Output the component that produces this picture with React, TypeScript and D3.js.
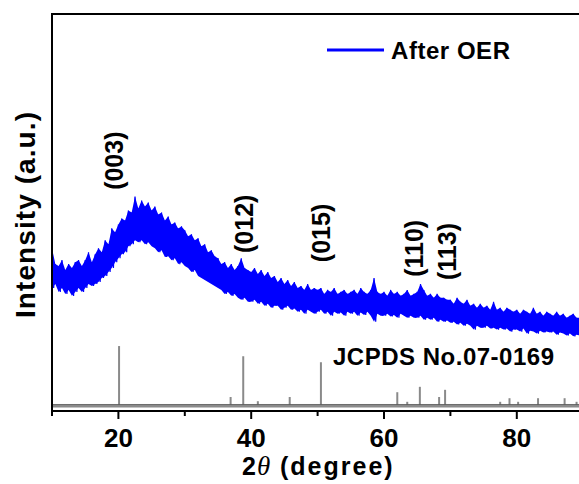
import React from 'react';
import * as d3 from 'd3';

const W = 579;
const H = 484;

// x axis (2θ, degree)
const xDomain: [number, number] = [10, 90];
const majorTicks = [20, 40, 60, 80];
const minorTicks = [10, 30, 50, 70, 90];

// measured trace "After OER": upper / lower excursions every 0.5° from 10° to 90°
const traceStart = 10;
const traceStep = 0.5;
const traceHigh = [
  41, 37, 36.5, 38, 35.5, 37, 36, 37.5, 38, 36.5,
  38, 40, 37.5, 39.5, 41, 40, 43, 42, 46, 45,
  47, 48.5, 48, 50.5, 50, 54, 51, 53, 51.5, 52.5,
  50.5, 51.5, 49.5, 50, 48, 49, 47, 47.5, 46, 46.5,
  45.5, 44, 44.5, 43, 43.5, 41.5, 42, 40, 40.5, 39,
  38.5, 37, 37.5, 36, 37, 35.5, 36.5, 38.5, 36, 35.5,
  35, 36, 34.5, 35.5, 34, 35, 33.5, 34, 32.5, 33.5,
  32, 33, 31.5, 32.5, 31, 31.5, 30.5, 32, 30.5, 31,
  30.5, 31, 29.5, 30.5, 30, 31, 29.5, 30, 30.5, 29.5,
  30, 30.5, 29.5, 31, 30, 29.5, 30.5, 33.5, 30, 29.5,
  30, 29, 30.5, 29.5, 30, 29, 29.5, 30.5, 29, 29.5,
  30, 32, 30.5, 29, 29.5, 28.5, 29.5, 28.5, 28.5, 28,
  28, 27, 28.5, 27.5, 27, 28, 26.5, 27, 26, 27,
  26, 26.5, 25.5, 27.5, 25.5, 26, 25, 26, 25.5, 25,
  25.5, 24.5, 25.5, 25, 24.5, 26, 24.5, 25, 24, 25,
  24.5, 24, 25, 24, 24.5, 23.5, 24, 24.5, 23.5, 23.5,
  23.5,
];
const traceLow = [
  31, 32, 30, 31, 29.5, 30.5, 29, 30, 31, 30,
  31, 32, 31.5, 32, 32.5, 33.5, 34, 35, 36, 37.5,
  38.5, 39.5, 40, 41.5, 42, 43, 42.5, 43, 42, 42.5,
  41.5, 41, 40, 40.5, 38.8, 39, 38, 38.5, 37, 37.5,
  36.5, 36, 35, 35.5, 34, 33.5, 33, 32.5, 32, 31.5,
  31, 30.5, 29.5, 30, 29, 29.5, 28.5, 28, 28.5, 27.5,
  27.5, 28, 27, 27.5, 26.5, 27, 26, 26.5, 26.5, 25.5,
  26, 26.5, 25.5, 25.8, 25, 25.5, 24.5, 25.5, 25, 24.5,
  25, 25.5, 24.5, 25, 24, 25, 24.5, 24.8, 24, 25,
  24.5, 25, 24, 24.8, 24.2, 25, 24, 22.5, 24.5, 24,
  24, 24.5, 23.8, 24.2, 23.5, 24.5, 24, 23.5, 24, 23.5,
  23.5, 24, 23, 23.5, 23, 23.5, 22.5, 23, 22.5, 22.8,
  22.2, 22.5, 21.8, 22.2, 21.5, 22, 21.5, 20.5, 21.5, 21,
  21, 21.5, 20.8, 21, 20.5, 21, 20.5, 20.8, 20, 20.5,
  20.5, 20, 20.8, 19.5, 20.2, 20, 19.5, 20.2, 19.8, 20,
  19.8, 20, 19.2, 19.8, 19.5, 19, 19.5, 18.8, 19.2, 19,
  19,
];

// JCPDS No.07-0169 reference sticks: position (2θ) and relative intensity
const refPos = [20.1, 36.9, 38.8, 41.0, 45.8, 50.5, 62.0, 63.5, 65.4, 68.3, 69.2, 77.5, 78.9, 80.2, 83.2, 87.2, 89.0];
const refInt = [100, 15, 83, 8, 15, 73, 23, 7, 32, 15, 27, 7, 13, 7, 13, 13, 7];
const refBase = 1.26;
const refFull = 15.1;

// peak labels: text, 2θ, intensity at label foot
const peakLabels = ['(003)', '(012)', '(015)', '(110)', '(113)'];
const peakPos = [20.7, 40.3, 51.9, 65.9, 70.8];
const peakAt = [55.7, 39.8, 37.5, 33.8, 33.0];

const seriesName = 'After OER';
const refName = 'JCPDS No.07-0169';

const SANS = '"Liberation Sans", Arial, Helvetica, sans-serif';
const BLUE = '#0000ff';

export default function App() {
  const x = d3.scaleLinear().domain(xDomain).range([52, 583.2]);
  const y = d3.scaleLinear().domain([0, 100]).range([411, 14]);

  const pts: [number, number][] = [];
  traceHigh.forEach((hv, i) => {
    const t = traceStart + i * traceStep;
    pts.push([x(t), y(hv)]);
    pts.push([x(t + traceStep / 2), y(traceLow[i])]);
  });
  const line = d3.line<[number, number]>().x(d => d[0]).y(d => d[1]);
  const area = d3
    .area<number>()
    .x((_, i) => x(traceStart + i * traceStep))
    .y0((_, i) => y(traceLow[i]))
    .y1(d => y(d));

  const plotL = x(xDomain[0]);
  const plotR = x(xDomain[1]);
  const plotT = y(100);
  const plotB = y(0);

  return (
    <svg width={W} height={H} style={{ position: 'absolute', left: 0, top: 0, background: '#fff' }}>
      <defs>
        <clipPath id="plotclip">
          <rect x={plotL} y={plotT} width={plotR - plotL} height={plotB - plotT} />
        </clipPath>
      </defs>
      <rect x={0} y={0} width={W} height={H} fill="#fff" />

      {/* reference sticks */}
      <g stroke="#8a8a8a" strokeWidth={2}>
        {refPos.map((p, i) => (
          <line key={i} x1={x(p)} x2={x(p)} y1={y(refBase)} y2={y(refBase + (refInt[i] / 100) * refFull)} />
        ))}
      </g>
      <line x1={plotL} x2={plotR} y1={y(refBase)} y2={y(refBase)} stroke="#8a8a8a" strokeWidth={3} />
      <line x1={plotL} x2={plotR} y1={y(refBase) - 1.5} y2={y(refBase) - 1.5} stroke="#555" strokeWidth={0.8} />

      {/* trace */}
      <g clipPath="url(#plotclip)">
        <path d={area(traceHigh) || ''} fill={BLUE} stroke="none" />
        <path d={line(pts) || ''} fill="none" stroke={BLUE} strokeWidth={1.2} strokeLinejoin="miter" />
      </g>

      {/* frame */}
      <rect x={plotL} y={plotT} width={plotR - plotL} height={plotB - plotT} fill="none" stroke="#000" strokeWidth={2} />

      {/* ticks */}
      <g stroke="#000" strokeWidth={2}>
        {majorTicks.map(t => (
          <line key={'M' + t} x1={x(t)} x2={x(t)} y1={plotB} y2={plotB + 8} />
        ))}
        {minorTicks.map(t => (
          <line key={'m' + t} x1={x(t)} x2={x(t)} y1={plotB} y2={plotB + 5} />
        ))}
      </g>
      <g fontFamily={SANS} fontWeight="bold" fontSize={26} fill="#000" textAnchor="middle">
        {majorTicks.map(t => (
          <text key={t} x={x(t)} y={446.5}>{t}</text>
        ))}
      </g>

      {/* x title */}
      <g fill="#000">
        <text x={242} y={474.5} fontFamily={SANS} fontWeight="bold" fontSize={25}>2</text>
        <text x={257} y={474.5} fontFamily={'"Liberation Serif", "Times New Roman", serif'} fontStyle="italic" fontSize={27}>θ</text>
        <text x={280} y={474.5} fontFamily={SANS} fontWeight="bold" fontSize={25} letterSpacing={2}>(degree)</text>
      </g>

      {/* y title */}
      <text
        transform="translate(35,215) rotate(-90)"
        textAnchor="middle"
        fontFamily={SANS}
        fontWeight="bold"
        fontSize={28}
        textLength={206}
        lengthAdjust="spacing"
        fill="#000"
      >
        Intensity (a.u.)
      </text>

      {/* peak labels */}
      <g fontFamily={SANS} fontWeight="bold" fontSize={25} fill="#000">
        {peakLabels.map((lab, i) => (
          <text key={lab} transform={`translate(${x(peakPos[i])},${y(peakAt[i])}) rotate(-90)`}>{lab}</text>
        ))}
      </g>

      {/* reference label */}
      <text x={333} y={365} fontFamily={SANS} fontWeight="bold" fontSize={24} textLength={221} lengthAdjust="spacing" fill="#000">
        {refName}
      </text>

      {/* legend */}
      <line x1={327} x2={384} y1={50} y2={50} stroke={BLUE} strokeWidth={3} />
      <text x={391} y={58.5} fontFamily={SANS} fontWeight="bold" fontSize={24} textLength={119} lengthAdjust="spacing" fill="#000">
        {seriesName}
      </text>
    </svg>
  );
}
